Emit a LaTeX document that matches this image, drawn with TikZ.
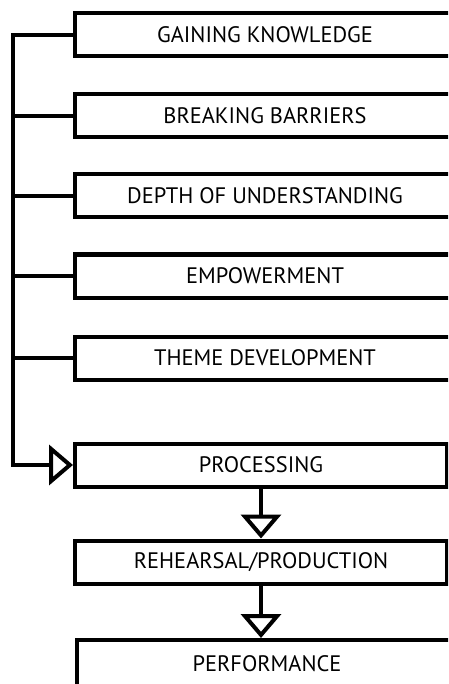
\documentclass[tikz,border=0pt]{standalone}
\usepackage{fontspec}
\setmainfont{PT Sans}
\usetikzlibrary{arrows.meta}

\begin{document}
\begin{tikzpicture}[x=1pt,y=-1pt,
	stage/.style={draw,line width=4pt,anchor=west,minimum height=43pt,inner sep=0pt,font=\fontsize{22.4}{27}\selectfont},
	wide/.style={stage,minimum width=380pt},
	link/.style={line width=4pt},
	flow/.style={link,-{Triangle[open,length=24pt,width=40pt]}}]
	\useasboundingbox (0,0) rectangle (448,684);
	\clip (0,0) rectangle (448,684);
	\coordinate (rail) at (13,0);
	% five inputs on the left rail
	\node[wide] (gain) at (73,35) {GAINING KNOWLEDGE};
	\node[wide] (brk) at (73,116) {BREAKING BARRIERS};
	\node[wide] (depth) at (73,196) {DEPTH OF UNDERSTANDING};
	\node[wide] (emp) at (73,276) {EMPOWERMENT};
	\node[wide] (theme) at (73,358) {THEME DEVELOPMENT};
	% main chain
	\node[stage,minimum width=372pt] (proc) at (73,465) {PROCESSING};
	\node[stage,minimum width=372pt] (reh) at (73,562) {REHEARSAL/PRODUCTION};
	\node[stage,minimum width=380pt,minimum height=48pt] (perf) at (75,664) {PERFORMANCE};
	\draw[flow] (gain.west) -- (gain.west -| rail) |- (proc.west);
	\foreach \n in {brk,depth,emp,theme}
		\draw[link] (\n.west) -- (\n.west -| rail);
	\draw[flow] (proc) -- (reh);
	\draw[flow] (reh.south) -- (reh.south |- perf.north);
\end{tikzpicture}
\end{document}
